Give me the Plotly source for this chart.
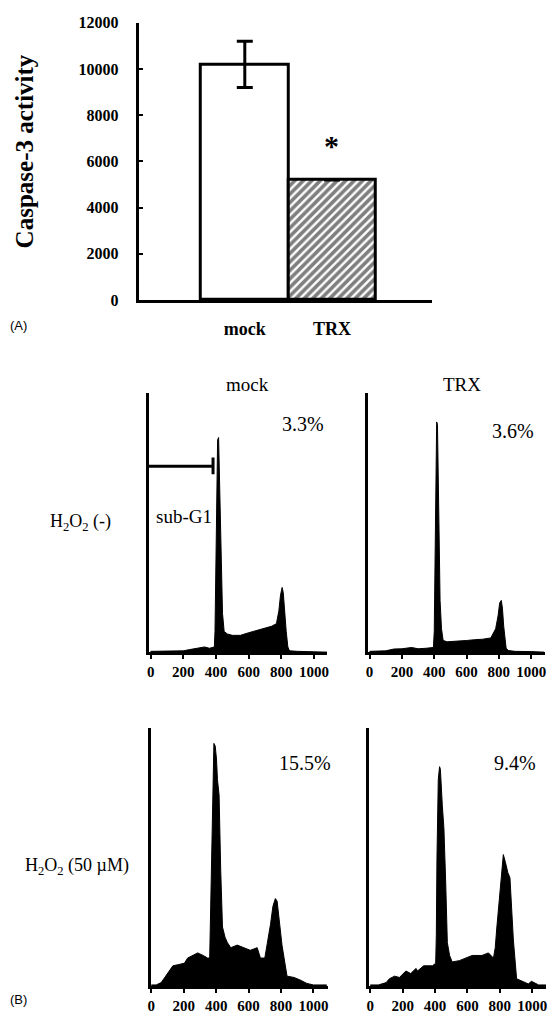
import plotly.graph_objects as go

# ---------- Panel A data ----------
groups = ["mock", "TRX"]
caspase = [10200, 5200]
caspase_err = [1000, 0]
y_ticks = [0, 2000, 4000, 6000, 8000, 10000, 12000]

# ---------- Panel B data (DNA content histograms) ----------
mock_neg_ch = [0, 100, 200, 240, 300, 330, 360, 390, 394, 400, 405, 410, 416, 420, 425, 432, 440, 450,
               470, 500, 550, 600, 650, 700, 740, 770, 785, 795, 805, 812, 820, 830, 840, 850, 900, 1000, 1080]
mock_neg_ct = [0.3, 0.3, 0.5, 1.0, 1.5, 2.0, 1.5, 2.0, 8, 30, 60, 82, 83, 70, 50, 30, 15, 8,
               7, 6.5, 6.5, 7.5, 8.5, 9.5, 10, 11, 16, 22, 25, 23, 15, 8, 2, 0.5, 0.3, 0.2, 0]

trx_neg_ch = [0, 100, 150, 200, 260, 300, 350, 395, 400, 405, 410, 415, 420, 425, 430, 436, 445, 455,
              480, 550, 600, 650, 700, 750, 780, 795, 805, 815, 822, 830, 838, 845, 860, 900, 1000, 1080]
trx_neg_ct = [0.3, 0.5, 1.2, 1.3, 1.8, 1.3, 1.5, 1.8, 8, 30, 70, 89, 88, 60, 45, 20, 9, 4.5,
              4, 4.2, 4.5, 4.8, 5, 5.5, 9, 14, 19, 20, 17, 10, 5, 1.5, 0.6, 0.3, 0.2, 0]

mock_pos_ch = [0, 30, 61, 100, 133, 170, 204, 224, 260, 286, 320, 347, 360, 368, 378, 386, 394, 402,
               408, 418, 428, 439, 455, 469, 490, 530, 571, 610, 653, 673, 700, 714, 735, 750, 765,
               776, 786, 806, 837, 880, 918, 959, 1000, 1082]
mock_pos_ct = [0.6, 0.6, 1.5, 5, 8, 8.5, 9, 11, 12, 13, 12, 11, 11, 40, 80, 94, 93, 88,
               80, 74, 45, 23, 19, 17, 15, 16, 15, 14, 15, 11, 11, 16, 24, 31, 34,
               33, 28, 16, 4, 3.5, 2.5, 1.2, 0.6, 0.6]

trx_pos_ch = [0, 50, 98, 118, 150, 180, 220, 250, 282, 292, 330, 384, 404, 408, 412, 420, 428, 433,
              445, 455, 466, 476, 490, 506, 550, 588, 630, 690, 730, 761, 772, 782, 792, 802, 812,
              822, 835, 850, 863, 875, 884, 904, 940, 976, 996, 1040, 1086]
trx_pos_ct = [0.6, 0.6, 1.5, 3, 4, 3.5, 6, 5, 7, 6, 8, 8, 9, 20, 50, 80, 85, 84,
              70, 61, 40, 17, 12, 9.5, 10, 11, 12, 12, 13, 11, 15, 23, 30, 34, 42,
              51, 48, 44, 42, 30, 18, 3, 2, 1, 2, 0.6, 0.6]

pct_labels = ["3.3%", "3.6%", "15.5%", "9.4%"]
col_titles = ["mock", "TRX"]
row_titles = ["H<sub>2</sub>O<sub>2</sub> (-)", "H<sub>2</sub>O<sub>2</sub> (50 \u00b5M)"]
ch_ticks = [0, 200, 400, 600, 800, 1000]
gate_x = [-12, 382]
gate_y = 71.9
gate_cap = [68.8, 75.3]

W, H = 555, 1025
def px(x):
    return x / W
def py(y):
    return 1 - y / H

SERIF = "Liberation Serif"
SANS = "Liberation Sans"

fig = go.Figure()

fig.add_trace(go.Bar(
    x=groups, y=caspase,
    width=1,
    marker=dict(color="white", line=dict(color="black", width=3),
                pattern=dict(shape=["", "/"], fgcolor="black", bgcolor="white", size=6, solidity=0.6)),
    error_y=dict(type="data", array=caspase_err, color="black", thickness=3, width=8, visible=True),
    xaxis="x", yaxis="y", showlegend=False,
))

hists = [(mock_neg_ch, mock_neg_ct), (trx_neg_ch, trx_neg_ct), (mock_pos_ch, mock_pos_ct), (trx_pos_ch, trx_pos_ct)]
for i, (ch, ct) in enumerate(hists):
    n = i + 2
    fig.add_trace(go.Scatter(
        x=ch, y=ct, mode="lines", fill="tozeroy",
        line=dict(color="black", width=1), fillcolor="black",
        xaxis=f"x{n}", yaxis=f"y{n}", showlegend=False, hoverinfo="skip",
    ))

layout = dict(
    width=W, height=H, margin=dict(l=0, r=0, t=0, b=0),
    paper_bgcolor="white", plot_bgcolor="white",
    bargap=0,
    xaxis=dict(domain=[px(137), px(433)], range=[-1.216, 2.148], type="category",
               showline=True, linecolor="black", linewidth=3, ticks="",
               showgrid=False, zeroline=False,
               tickfont=dict(family=SERIF, size=18, color="black", weight="bold"),
               ticklabelstandoff=10, anchor="y"),
    yaxis=dict(domain=[py(297), py(15)], range=[0, 12000], tickvals=y_ticks, tickformat="d",
               showline=True, linecolor="black", linewidth=3, ticks="inside", ticklen=4, tickwidth=2,
               tickcolor="black", showgrid=False, zeroline=False,
               tickfont=dict(family=SERIF, size=16, color="black", weight="bold"),
               ticklabelstandoff=14, anchor="x"),
)

panel_dom = [
    ([px(147), px(327)], [py(655), py(392)], [-12, 1080]),
    ([px(368), px(547)], [py(655), py(392)], [-12, 1086]),
    ([px(149), px(328)], [py(995), py(732)], [-4, 1090]),
    ([px(369), px(548)], [py(995), py(732)], [-10, 1086]),
]
for i, (xd, yd, xr) in enumerate(panel_dom):
    n = i + 2
    layout[f"xaxis{n}"] = dict(domain=xd, range=xr, tickvals=ch_ticks, anchor=f"y{n}",
                               showline=True, linecolor="black", linewidth=3,
                               ticks="outside", ticklen=4, tickwidth=2, tickcolor="black",
                               showgrid=False, zeroline=False,
                               tickfont=dict(family=SERIF, size=15, color="black", weight="bold"))
    layout[f"yaxis{n}"] = dict(domain=yd, range=[0, 100], anchor=f"x{n}",
                               showline=True, linecolor="black", linewidth=3,
                               showticklabels=False, ticks="", showgrid=False, zeroline=False)

fig.update_layout(**layout)

def A(text, x, y, size, family=SERIF, bold=False, xref="paper", yref="paper", **kw):
    f = dict(family=family, size=size, color="black")
    if bold:
        f["weight"] = "bold"
    d = dict(text=text, x=x, y=y, xref=xref, yref=yref, showarrow=False, font=f,
             xanchor="center", yanchor="middle")
    d.update(kw)
    return d

ann = []
ann.append(A("Caspase-3 activity", px(22), py(146), 25, bold=True, textangle=-90))
ann.append(A("*", "TRX", 6700, 30, bold=True, xref="x", yref="y"))
ann.append(A("(A)", px(5), py(323), 13, family=SANS, xanchor="left"))
ann.append(A("(B)", px(5), py(1008), 13, family=SANS, xanchor="left"))
for t, xx in zip(col_titles, [247, 463]):
    ann.append(A(t, px(xx), py(383), 19))
for t, (xx, yy) in zip(row_titles, [(78, 523), (75, 873)]):
    ann.append(A(t, px(xx), py(yy), 18))
for t, (xx, yy) in zip(pct_labels, [(303, 423), (515, 430), (305, 768), (517, 768)]):
    ann.append(A(t, px(xx), py(yy), 20))
ann.append(A("sub-G1", 206, 52.5, 19, xref="x2", yref="y2"))
fig.update_layout(annotations=ann)

fig.add_shape(type="line", x0=gate_x[0], x1=gate_x[1], y0=gate_y, y1=gate_y, xref="x2", yref="y2",
              line=dict(color="black", width=3))
fig.add_shape(type="line", x0=gate_x[1], x1=gate_x[1], y0=gate_cap[0], y1=gate_cap[1], xref="x2", yref="y2",
              line=dict(color="black", width=3))

fig.write_html("out.html", config={"displayModeBar": False},
               post_script="document.body.style.margin='0';")
